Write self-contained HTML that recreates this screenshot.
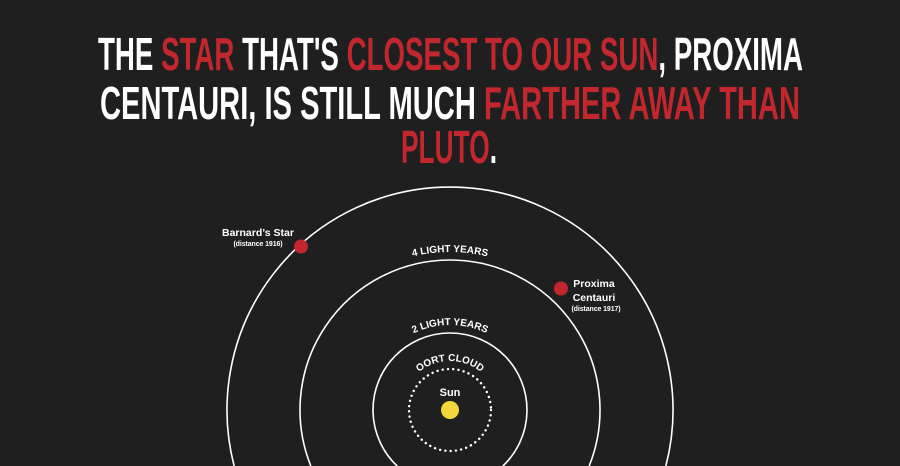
<!DOCTYPE html>
<html><head><meta charset="utf-8"><style>
html,body{margin:0;padding:0;background:#1f1f1f;width:900px;height:466px;overflow:hidden;}
svg{display:block;}
</style></head><body>
<svg width="900" height="466" viewBox="0 0 900 466">
<rect width="900" height="466" fill="#1f1f1f"/>
<g font-family="'Liberation Sans Narrow','Liberation Sans',sans-serif" font-weight="bold" font-size="46">
<text x="98" y="70" textLength="705" lengthAdjust="spacingAndGlyphs" fill="#fff">THE <tspan fill="#c1272d">STAR</tspan> THAT'S <tspan fill="#c1272d">CLOSEST TO OUR SUN</tspan>, PROXIMA</text>
<text x="100" y="119" textLength="700" lengthAdjust="spacingAndGlyphs" fill="#fff">CENTAURI, IS STILL MUCH <tspan fill="#c1272d">FARTHER AWAY THAN</tspan></text>
<text x="401" y="163" textLength="96" lengthAdjust="spacingAndGlyphs" fill="#c1272d">PLUTO<tspan fill="#fff">.</tspan></text>
</g>
<defs>
<path id="arc4" d="M 292 410 A 158 158 0 0 1 608 410"/>
<path id="arc2" d="M 365 410 A 85 85 0 0 1 535 410"/>
<path id="arcO" d="M 401 410 A 49 49 0 0 1 499 410"/>
</defs>
<g fill="none" stroke="#fff" stroke-width="1.6">
<path d="M 234.14 466 A 223 223 0 1 1 665.86 466"/>
<path d="M 310.85 466 A 150 150 0 1 1 589.15 466"/>
<path d="M 397.15 466 A 77 77 0 1 1 502.85 466"/>
<circle cx="450" cy="410" r="41" stroke-width="2.4" stroke-dasharray="0.1 5.2" stroke-linecap="round"/>
</g>
<g font-family="'Liberation Sans',sans-serif" fill="#fff" font-weight="bold">
<text font-size="10" text-anchor="middle"><textPath href="#arc4" startOffset="50%">4 LIGHT YEARS</textPath></text>
<text font-size="10" text-anchor="middle"><textPath href="#arc2" startOffset="50%">2 LIGHT YEARS</textPath></text>
<text font-size="10" text-anchor="middle"><textPath href="#arcO" startOffset="50%">OORT CLOUD</textPath></text>
<circle cx="450" cy="410" r="9" fill="#f4d63a" stroke="none"/>
<text x="450" y="396" font-size="11" text-anchor="middle">Sun</text>
<circle cx="301" cy="246.5" r="7" fill="#c1272d"/>
<text x="258" y="236" font-size="10.5" text-anchor="middle">Barnard’s Star</text>
<text x="258" y="246" font-size="7" text-anchor="middle" letter-spacing="-0.1">(distance 1916)</text>
<circle cx="561" cy="288.5" r="7" fill="#c1272d"/>
<text x="594" y="287" font-size="10.5" text-anchor="middle">Proxima</text>
<text x="594" y="301" font-size="10.5" text-anchor="middle">Centauri</text>
<text x="596" y="311" font-size="7" text-anchor="middle" letter-spacing="-0.1">(distance 1917)</text>
</g>
</svg>
</body></html>
